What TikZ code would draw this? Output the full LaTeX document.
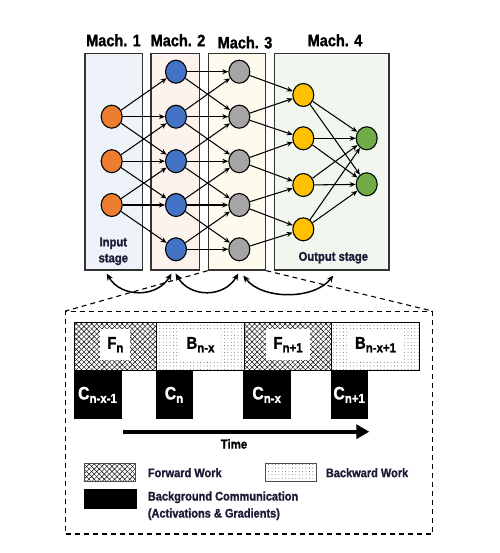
\documentclass[tikz,border=0pt]{standalone}
\usepackage{fontspec}
\setmainfont{Liberation Sans}[FakeStretch=0.88,BoldFeatures={FakeBold=1.2}]
\usetikzlibrary{shapes.geometric,arrows.meta,patterns.meta}
\definecolor{corange}{HTML}{ED7D31}
\definecolor{cblue}{HTML}{4472C4}
\definecolor{cgray}{HTML}{A5A5A5}
\definecolor{cyellow}{HTML}{FFC000}
\definecolor{cgreen}{HTML}{70AD47}
\definecolor{fillA}{HTML}{EEF2F9}
\definecolor{fillB}{HTML}{FCF3EE}
\definecolor{fillC}{HTML}{FEFAEE}
\definecolor{fillD}{HTML}{F1F6EE}
\definecolor{navytext}{HTML}{1C1C38}
\newcommand\lsub[1]{\raisebox{-3.5pt}{\fontsize{13}{13}\selectfont #1}}
\begin{document}
\begin{tikzpicture}[x=1pt,y=-1pt,font=\bfseries,
  machbox/.style={draw=black!80,line width=1.2pt,inner sep=0pt},
  machlbl/.style={font=\fontsize{16.5}{18}\selectfont\bfseries,inner sep=0pt},
  neuron/.style={ellipse,draw=black,line width=1.1pt,minimum width=21pt,minimum height=23pt,inner sep=0pt},
  edge/.style={line width=1.05pt,-{Stealth[length=6pt,width=5pt]}},
  arcarrow/.style={line width=1.5pt,{Stealth[length=7pt,width=6pt]}-{Stealth[length=7pt,width=6pt]}},
  dashline/.style={line width=1.1pt,dash pattern=on 5pt off 4pt},
  stagelbl/.style={font=\fontsize{12.8}{16}\selectfont\bfseries,text=navytext,inner sep=0pt,align=center},
  fwd/.style={draw=black,line width=0.8pt,inner sep=0pt,
    pattern={Lines[angle=45,distance=3.6pt,line width=0.45pt]},
    preaction={pattern={Lines[angle=-45,distance=3.6pt,line width=0.45pt]}}},
  bwd/.style={draw=black,line width=0.8pt,inner sep=0pt,
    pattern={Dots[distance=3.4pt,radius=0.35pt]}},
  comm/.style={fill=black,draw=black,inner sep=0pt},
  worklbl/.style={fill=white,inner xsep=7pt,inner ysep=8pt,font=\fontsize{17}{17}\selectfont\bfseries},
  commlbl/.style={inner sep=0pt,text=white,font=\fontsize{18}{18}\selectfont\bfseries},
  legtext/.style={font=\fontsize{12.5}{17}\selectfont\bfseries,text=navytext,inner sep=0pt,anchor=west,align=left}
]
\useasboundingbox (0,0) rectangle (499,553);

% machine boxes
\node[machbox,fill=fillA,minimum width=57.3pt,minimum height=216.7pt] (m1) at (113.7,161.7) {};
\node[machbox,fill=fillB,minimum width=48.3pt,minimum height=216.7pt] (m2) at (175.2,161.7) {};
\node[machbox,fill=fillC,minimum width=57.4pt,minimum height=216.7pt] (m3) at (237.0,161.7) {};
\node[machbox,fill=fillD,minimum width=114.7pt,minimum height=216.7pt] (m4) at (331.7,161.7) {};

\node[machlbl] (l1) at (113.5,40.3) {Mach. 1};
\node[machlbl] (l2) at (178,40.3) {Mach. 2};
\node[machlbl] (l3) at (245,42.5) {Mach. 3};
\node[machlbl] (l4) at (335,40.3) {Mach. 4};

\node[stagelbl] (inlbl) at (113.3,251.3) {Input\\stage};
\node[stagelbl] (outlbl) at (333.3,257.7) {Output stage};

% neurons
\foreach \i/\y in {1/116.7,2/161.2,3/205}
  \node[neuron,fill=corange] (o\i) at (111.7,\y) {};
\foreach \i/\y in {1/71.7,2/116.7,3/161.2,4/205,5/249.3}
  \node[neuron,fill=cblue] (b\i) at (176,\y) {};
\foreach \i/\y in {1/71.7,2/116.7,3/161.2,4/205,5/249.3}
  \node[neuron,fill=cgray] (g\i) at (239.3,\y) {};
\foreach \i/\y in {1/95,2/138.3,3/185,4/229.3}
  \node[neuron,fill=cyellow] (y\i) at (303.3,\y) {};
\foreach \i/\y in {1/138.3,2/184.3}
  \node[neuron,fill=cgreen] (z\i) at (366.7,\y) {};

% edges orange -> blue
\foreach \i/\a/\b/\c in {1/1/2/3,2/2/3/4,3/3/4/5}{
  \draw[edge] (o\i) -- (b\a);
  \draw[edge] (o\i) -- (b\b);
  \draw[edge] (o\i) -- (b\c);
}
% blue -> gray
\foreach \i/\j in {1/1,1/2,2/1,2/2,2/3,3/2,3/3,3/4,4/3,4/4,4/5,5/4,5/5}
  \draw[edge] (b\i) -- (g\j);
% gray -> yellow
\foreach \i/\j in {1/1,2/1,2/2,3/2,3/3,4/3,4/4,5/4}
  \draw[edge] (g\i) -- (y\j);
% yellow -> green
\foreach \i in {1,2,3,4}
  \foreach \j in {1,2}
    \draw[edge] (y\i) -- (z\j);

% communication arcs
\coordinate (a1s) at (106.7,273.5);
\coordinate (a1e) at (171.5,273.5);
\coordinate (a2s) at (175.5,273.5);
\coordinate (a2e) at (238.3,273.5);
\coordinate (a3s) at (243.3,275.5);
\coordinate (a3e) at (333.3,275.5);
\draw[arcarrow] (a1s) .. controls (121,298) and (157,298) .. (a1e);
\draw[arcarrow] (a2s) .. controls (190,298) and (224,298) .. (a2e);
\draw[arcarrow] (a3s) .. controls (262,300) and (314,300) .. (a3e);

% dashed zoom box
\node[draw,dashline,inner sep=0pt,minimum width=366.6pt,minimum height=222.3pt] (db) at (249,422.85) {};
\draw[dashline] (m3.south west) -- (db.north west);
\draw[dashline] (m3.south east) -- (db.north east);

% work blocks
\node[fwd,minimum width=82.7pt,minimum height=47.7pt] (fn) at (115.35,346.15) {};
\node[bwd,minimum width=87.6pt,minimum height=47.7pt] (bnx) at (200.5,346.15) {};
\node[fwd,minimum width=87.4pt,minimum height=47.7pt] (fn1) at (288.0,346.15) {};
\node[bwd,minimum width=87.6pt,minimum height=47.7pt] (bnx1) at (375.5,346.15) {};
\node[worklbl] (fnl) at ([yshift=1.5pt]fn.center) {F\lsub{n}};
\node[worklbl] (bnxl) at ([yshift=1.5pt]bnx.center) {B\lsub{n-x}};
\node[worklbl] (fn1l) at ([yshift=1.5pt]fn1.center) {F\lsub{n+1}};
\node[worklbl] (bnx1l) at ([yshift=1.5pt]bnx1.center) {B\lsub{n-x+1}};

% communication blocks
\node[comm,minimum width=47pt,minimum height=47.7pt] (c1) at (97.5,393.85) {};
\node[comm,minimum width=36.6pt,minimum height=47.7pt] (c2) at (174,393.85) {};
\node[comm,minimum width=46.7pt,minimum height=47.7pt] (c3) at (266.65,393.85) {};
\node[comm,minimum width=36.3pt,minimum height=47.7pt] (c4) at (349.15,393.85) {};
\node[commlbl] (c1l) at ([yshift=-1pt]c1.center) {C\lsub{n-x-1}};
\node[commlbl] (c2l) at ([yshift=-1pt]c2.center) {C\lsub{n}};
\node[commlbl] (c3l) at ([yshift=-1pt]c3.center) {C\lsub{n-x}};
\node[commlbl] (c4l) at ([yshift=-1pt]c4.center) {C\lsub{n+1}};

% time arrow
\coordinate (ts) at (123.3,431.7);
\coordinate (te) at (369.3,431.7);
\draw[line width=3.6pt,-{Triangle[length=13pt,width=14pt]}] (ts) -- (te);
\node[font=\fontsize{13}{13}\selectfont\bfseries,inner sep=0pt] (time) at (234,444) {Time};

% legend
\node[fwd,draw=black!70,minimum width=51.4pt,minimum height=18.4pt] (lf) at (110,472.5) {};
\node[legtext] (lft) at (147.7,472.7) {Forward Work};
\node[bwd,draw=black!70,minimum width=51.7pt,minimum height=18.4pt] (lb) at (290.85,472.5) {};
\node[legtext] (lbt) at (325.7,472.7) {Backward Work};
\node[comm,minimum width=51.4pt,minimum height=19pt] (lc) at (110,498.8) {};
\node[legtext] (lct) at (147.7,505.8) {Background Communication\\(Activations \& Gradients)};
\end{tikzpicture}
\end{document}
